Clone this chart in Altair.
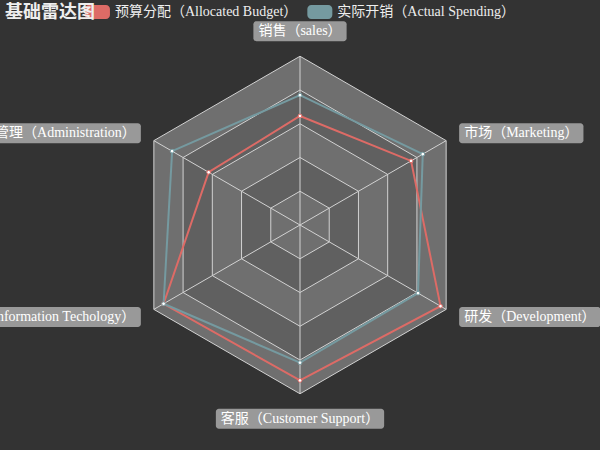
import math
import altair as alt
import pandas as pd

# ---------------- data ----------------
title_text = "基础雷达图"
categories = [
    "销售（sales）",
    "管理（Administration）",
    "信息技术（Information Techology）",
    "客服（Customer Support）",
    "研发（Development）",
    "市场（Marketing）",
]
max_values = [6500, 16000, 30000, 38000, 52000, 25000]
series_names = ["预算分配（Allocated Budget）", "实际开销（Actual Spending）"]
budget = [4200, 10000, 28000, 35000, 50000, 19000]
actual = [5000, 14000, 28000, 31000, 42000, 21000]
split_levels = [0.2, 0.4, 0.6, 0.8, 1.0]

# ---------------- layout / style ----------------
W, H = 600, 450
CX, CY = 300.0, 225.0
R = 168.75
NAME_GAP = 15
N = len(categories)
FONT = "Liberation Serif, Noto Sans CJK SC"
BG = "#333333"
SERIES_COLORS = ["#dd6b66", "#759aa0"]
AREA_COLORS = ["#6f6f6f", "#606060"]
LINE_COLOR = "#d2d2d2"
NAME_BG = "#999999"
TEXT_COLOR = "#eeeeee"
FS = 14

TIMES = {
    "a": 444, "b": 500, "c": 444, "d": 500, "e": 444, "f": 333, "g": 500, "h": 500,
    "i": 278, "j": 278, "k": 500, "l": 278, "m": 778, "n": 500, "o": 500, "p": 500,
    "q": 500, "r": 333, "s": 389, "t": 278, "u": 500, "v": 500, "w": 722, "x": 500,
    "y": 500, "z": 444, " ": 250, "A": 722, "B": 667, "C": 667, "D": 722, "I": 333,
    "M": 889, "S": 556, "T": 611,
}


def text_width(s, size):
    w = 0
    for ch in s:
        w += 1000 if ord(ch) > 0x2E80 else TIMES.get(ch, 500)
    return w * size / 1000.0


def ux(px):
    return px - CX


def uy(py):
    return CY - py


xs = alt.Scale(domain=[-CX, W - CX], nice=False, zero=False)
ys = alt.Scale(domain=[CY - H, CY], nice=False, zero=False)


def X(f):
    return alt.X(f, type="quantitative", scale=xs, axis=None)


def Y(f):
    return alt.Y(f, type="quantitative", scale=ys, axis=None)


def angle(k):
    return math.pi / 2 + k * 2 * math.pi / N


ANG = f"PI/2 + datum.k*2*PI/{N}"

layers = []

# split areas: nested hexagons (outer first), alternating colours
features = []
for j in range(len(split_levels) - 1, -1, -1):
    lvl = split_levels[j]
    ring = [[lvl * R * math.cos(angle(k)), lvl * R * math.sin(angle(k))] for k in range(N + 1)]
    features.append({
        "type": "Feature",
        "properties": {"fill": AREA_COLORS[j % 2], "level": lvl},
        "geometry": {"type": "Polygon", "coordinates": [ring]},
    })
layers.append(
    alt.Chart(alt.Data(values=features))
    .mark_geoshape(strokeOpacity=0, strokeWidth=0, fillOpacity=1)
    .encode(fill=alt.Fill("properties.fill:N", scale=None))
    .project(type="identity", reflectY=True, scale=1, translate=[CX, CY])
)

# split lines
ring_rows = [{"level": lvl, "k": k} for lvl in split_levels for k in range(N + 1)]
layers.append(
    alt.Chart(pd.DataFrame(ring_rows))
    .transform_calculate(ang=ANG)
    .transform_calculate(rx=f"datum.level*{R}*cos(datum.ang)")
    .transform_calculate(ry=f"datum.level*{R}*sin(datum.ang)")
    .mark_line(color=LINE_COLOR, strokeWidth=1)
    .encode(x=X("rx"), y=Y("ry"), detail="level:N", order="k:Q")
)

# axis lines
layers.append(
    alt.Chart(pd.DataFrame({"k": list(range(N))}))
    .transform_calculate(ang=ANG)
    .transform_calculate(x0="0", y0="0")
    .transform_calculate(x1=f"{R}*cos(datum.ang)", y1=f"{R}*sin(datum.ang)")
    .mark_rule(color=LINE_COLOR, strokeWidth=1)
    .encode(x=X("x0"), y=Y("y0"), x2="x1:Q", y2="y1:Q")
)

# series
srows = []
for name, vals in zip(series_names, [budget, actual]):
    for k in range(N + 1):
        i = k % N
        srows.append({"series": name, "k": k, "value": vals[i], "max": max_values[i]})
sdf = pd.DataFrame(srows)
cscale = alt.Scale(domain=series_names, range=SERIES_COLORS)

base = (
    alt.Chart(sdf)
    .transform_calculate(ang=ANG)
    .transform_calculate(r=f"datum.value/datum.max*{R}")
    .transform_calculate(px="datum.r*cos(datum.ang)")
    .transform_calculate(py="datum.r*sin(datum.ang)")
)
layers.append(
    base.mark_line(strokeWidth=2).encode(
        x=X("px"), y=Y("py"),
        color=alt.Color("series:N", scale=cscale, legend=None),
        order="k:Q",
    )
)
layers.append(
    base.transform_filter(f"datum.k < {N}")
    .mark_point(shape="circle", filled=False, fill="white", fillOpacity=1, size=14, strokeWidth=1)
    .encode(x=X("px"), y=Y("py"), stroke=alt.Stroke("series:N", scale=cscale, legend=None))
)

# indicator name labels with boxes
lrows = []
for i, cat in enumerate(categories):
    a = angle(i)
    c, s = math.cos(a), math.sin(a)
    axx, ayy = (R + NAME_GAP) * c, (R + NAME_GAP) * s
    w = text_width(cat, FS) + 10
    h = 20
    if abs(c) < 1e-6:
        x1, x2 = axx - w / 2, axx + w / 2
        if s > 0:
            y1, y2 = ayy, ayy + h
        else:
            y1, y2 = ayy - h, ayy
    else:
        if c > 0:
            x1, x2 = axx, axx + w
        else:
            x1, x2 = axx - w, axx
        y1, y2 = ayy - h / 2, ayy + h / 2
    lrows.append({"label": cat, "x1": x1, "x2": x2, "y1": y1, "y2": y2,
                  "tx": (x1 + x2) / 2, "ty": (y1 + y2) / 2})
ldf = pd.DataFrame(lrows)
layers.append(
    alt.Chart(ldf).mark_rect(color=NAME_BG, cornerRadius=3)
    .encode(x=X("x1"), x2="x2:Q", y=Y("y1"), y2="y2:Q")
)
layers.append(
    alt.Chart(ldf).mark_text(font=FONT, fontSize=FS, color="white", align="center", baseline="middle")
    .encode(x=X("tx"), y=Y("ty"), text="label:N")
)

# legend (custom, centred at top)
ICON_W, ICON_H, GAP_T, GAP_I = 25, 14, 5, 10
widths = [text_width(nm, FS) for nm in series_names]
total = sum(ICON_W + GAP_T + w for w in widths) + GAP_I * (len(widths) - 1)
cur = W / 2 - total / 2
legrows = []
for nm, w in zip(series_names, widths):
    legrows.append({"series": nm, "ix1": ux(cur), "ix2": ux(cur + ICON_W),
                    "iy1": uy(5), "iy2": uy(5 + ICON_H),
                    "tx": ux(cur + ICON_W + GAP_T), "ty": uy(12)})
    cur += ICON_W + GAP_T + w + GAP_I
legdf = pd.DataFrame(legrows)
layers.append(
    alt.Chart(legdf).mark_rect(cornerRadius=4)
    .encode(x=X("ix1"), x2="ix2:Q", y=Y("iy1"), y2="iy2:Q",
            color=alt.Color("series:N", scale=cscale, legend=None))
)
layers.append(
    alt.Chart(legdf).mark_text(font=FONT, fontSize=FS, color=TEXT_COLOR, align="left", baseline="middle")
    .encode(x=X("tx"), y=Y("ty"), text="series:N")
)

# title
layers.append(
    alt.Chart(pd.DataFrame({"t": [title_text], "tx": [ux(5)], "ty": [uy(13)]}))
    .mark_text(font="Noto Sans CJK SC", fontSize=18, fontWeight="bold", color=TEXT_COLOR,
               align="left", baseline="middle")
    .encode(x=X("tx"), y=Y("ty"), text="t:N")
)

chart = (
    alt.layer(*layers)
    .properties(width=W, height=H, background=BG, padding=0,
                autosize=alt.AutoSizeParams(type="none"))
    .configure_view(stroke=None)
)

chart.save("out.html", embed_options={"renderer": "svg", "actions": False})
